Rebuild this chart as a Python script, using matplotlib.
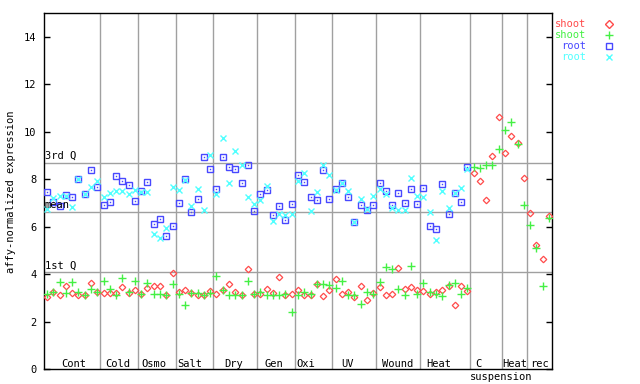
import numpy as np
import matplotlib
matplotlib.use("Agg")
import matplotlib.pyplot as plt
from matplotlib.lines import Line2D

plt.rcParams['font.family'] = ['DejaVu Sans Mono']
plt.rcParams['font.size'] = 7.5

# grupos de muestras (nombre, numero de muestras)
grupos = ["Cont", "Cold", "Osmo", "Salt", "Dry", "Gen", "Oxi", "UV", "Wound", "Heat", "C", "Heat", "rec"]
tamanos = [9, 6, 6, 6, 7, 6, 6, 7, 7, 8, 5, 4, 4]
pos_etiquetas = [5.3, 12.2, 18.0, 23.7, 30.8, 37.1, 42.3, 48.9, 56.9, 63.5, 69.7, 75.5, 79.5]

shoot_1 = [3.05, 3.26, 3.13, 3.51, 3.2, 3.13, 3.13, 3.62, 3.24,
           3.2, 3.2, 3.2, 3.46, 3.2, 3.33,
           3.17, 3.41, 3.51, 3.51, 3.13, 4.05,
           3.25, 3.34, 3.2, 3.12, 3.12, 3.28,
           3.16, 3.33, 3.58, 3.24, 3.12, 4.22, 3.16,
           3.18, 3.38, 3.2, 3.88, 3.12, 3.16,
           3.33, 3.12, 3.12, 3.58, 3.08, 3.34,
           3.8, 3.16, 3.25, 3.04, 3.5, 2.92, 3.2,
           3.47, 3.12, 3.17, 4.27, 3.39, 3.47, 3.34,
           3.3, 3.18, 3.25, 3.34, 3.48, 2.7, 3.5, 3.3,
           8.27, 7.93, 7.13, 8.98, 10.62,
           9.11, 9.83, 9.53, 8.06,
           6.58, 5.24, 4.64, 6.45]

shoot_2 = [3.14, 3.26, 3.68, 3.21, 3.68, 3.25, 3.12, 3.38, 3.25,
           3.72, 3.38, 3.13, 3.84, 3.25, 3.72,
           3.16, 3.62, 3.17, 3.17, 3.13, 3.59,
           3.17, 2.7, 3.2, 3.2, 3.12, 3.2,
           3.93, 3.34, 3.12, 3.12, 3.12, 3.72, 3.16,
           3.25, 3.12, 3.12, 3.12, 3.16, 2.41,
           3.12, 3.24, 3.16, 3.59, 3.59, 3.55,
           3.42, 3.72, 3.12, 3.1, 2.75, 3.25, 3.17,
           3.68, 4.3, 4.21, 3.38, 3.12, 4.35, 3.17,
           3.63, 3.25, 3.17, 3.08, 3.55, 3.63, 3.17, 3.4,
           8.52, 8.49, 8.61, 8.58, 9.25,
           10.05, 10.42, 9.46, 6.92,
           6.08, 5.1, 3.51, 6.37]

nan = np.nan
root_1 = [7.47, 7.05, 6.85, 7.35, 7.26, 8.02, 7.37, 8.4, 7.68,
          6.89, 7.02, 8.15, 7.94, 7.77, 7.09,
          7.5, 7.9, 6.12, 6.34, 5.62, 6.04,
          7.01, 8.02, 6.63, 7.18, 8.95, 8.44,
          7.6, 8.95, 8.52, 8.44, 7.85, 8.6, 6.67,
          7.39, 7.56, 6.49, 6.88, 6.28, 6.96,
          8.19, 7.89, 7.26, 7.13, 8.4, 7.17,
          7.6, 7.85, 7.26, 6.2, 6.92, 6.72, 6.92,
          7.85, 7.51, 6.92, 7.43, 7.01, 7.6, 6.96,
          7.64, 6.04, 5.91, 7.79, 6.54, 7.43, 7.05, 8.53] + [nan] * 13

root_2 = [6.73, 7.19, 7.3, 7.29, 6.84, 8.02, 7.36, 7.65, 7.93,
          7.25, 7.43, 7.52, 7.48, 7.36, 7.56,
          7.47, 7.47, 5.7, 5.53, 5.96, 7.68,
          7.56, 7.95, 6.85, 7.6, 6.71, 9.03,
          7.38, 9.75, 7.85, 9.2, 8.61, 7.26, 6.97,
          7.13, 7.7, 6.25, 6.54, 6.47, 6.55,
          7.94, 8.24, 6.67, 7.47, 8.61, 8.19,
          7.56, 7.85, 7.51, 6.18, 7.18, 6.75, 7.3,
          7.6, 7.39, 6.79, 6.69, 6.69, 8.06, 7.3,
          7.26, 6.63, 5.45, 7.51, 6.79, 7.43, 7.64, 8.42] + [nan] * 13

# cuartiles de referencia
cuartiles = {"3rd Q": 8.68, "mean": 6.63, "1st Q": 4.07}

ROJO = '#ff4a4a'
VERDE = '#44f044'
AZUL = '#4848ff'
CIAN = '#50ffff'
GRIS = '#a0a0a0'

n = len(shoot_1)
x = np.arange(1, n + 1)

fig = plt.figure(figsize=(6.4, 3.84), dpi=100)
ax = fig.add_axes([44 / 640, 15 / 384, 508 / 640, 356 / 384])

# separadores entre grupos
limites = np.cumsum(tamanos)[:-1] + 0.5
for b in limites:
    ax.axvline(b, color=GRIS, lw=1, zorder=1)

for nombre, val in cuartiles.items():
    ax.axhline(val, color=GRIS, lw=1, zorder=1)
    ax.text(0.6, val + 0.08, nombre, ha='left', va='bottom', fontsize=7.5, zorder=5)

ax.plot(x, shoot_1, ls='none', marker='D', ms=3.3, mfc='none', mec=ROJO, mew=0.9, zorder=3)
ax.plot(x, shoot_2, ls='none', marker='+', ms=5.5, mec=VERDE, mew=1, zorder=3)
ax.plot(x, root_1, ls='none', marker='s', ms=4.5, mfc='none', mec=AZUL, mew=1, zorder=3)
ax.plot(x, root_1, ls='none', marker='s', ms=1, mfc=AZUL, mec=AZUL, mew=0, zorder=3)
ax.plot(x, root_2, ls='none', marker='x', ms=4.2, mec=CIAN, mew=1, zorder=4)

for nombre, p in zip(grupos, pos_etiquetas):
    ax.text(p, 0.08, nombre, ha='center', va='baseline', fontsize=7.5)
ax.text(73.4, -0.45, "suspension", ha='center', va='baseline', fontsize=7.5, clip_on=False)

ax.set_xlim(0.5, n + 0.5)
ax.set_ylim(0, 15)
ax.set_xticks([])
ax.set_yticks(range(0, 15, 2))
ax.tick_params(axis='y', direction='in', length=4, width=1, pad=5.5, left=True, right=True)
for s in ax.spines.values():
    s.set_linewidth(1)

fig.text(11 / 640, 0.5, "affy-normalized expression", rotation=90, ha='center', va='center', fontsize=7.5)

# leyenda manual
leyenda = [("shoot", ROJO, 'D', 'none'), ("shoot", VERDE, '+', VERDE),
           ("root", AZUL, 's', 'none'), ("root", CIAN, 'x', CIAN)]
for k, (txt, col, mk, fc) in enumerate(leyenda):
    yy = 1 - (24 + k * 10.9) / 384
    fig.text(586 / 640, yy, txt, color=col, ha='right', va='center', fontsize=7.5)
    fig.add_artist(Line2D([609 / 640], [yy], transform=fig.transFigure, ls='none', marker=mk,
                          ms=4 if mk != '+' else 5.5, mfc=fc, mec=col, mew=1))

plt.savefig("out.png", dpi=100)
